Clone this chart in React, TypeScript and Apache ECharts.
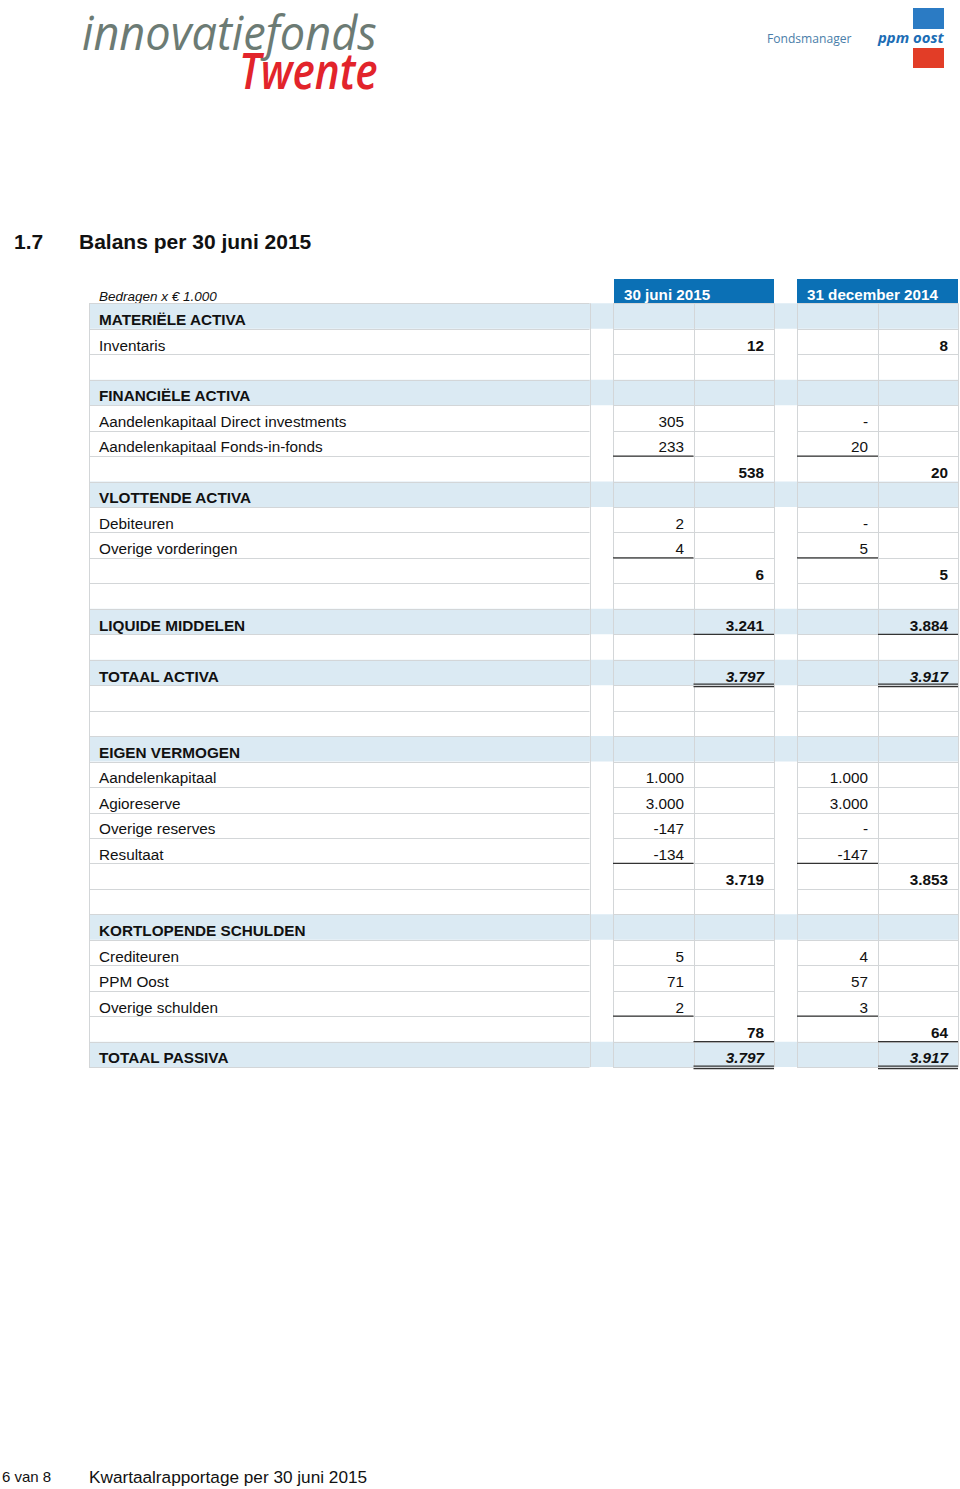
import React, { useEffect, useRef } from "react";
import * as echarts from "echarts";

// ---------- data ----------
const rowLabels = [
  "MATERIËLE ACTIVA", "Inventaris", "", "FINANCIËLE ACTIVA",
  "Aandelenkapitaal Direct investments", "Aandelenkapitaal Fonds-in-fonds", "",
  "VLOTTENDE ACTIVA", "Debiteuren", "Overige vorderingen", "", "",
  "LIQUIDE MIDDELEN", "", "TOTAAL ACTIVA", "", "",
  "EIGEN VERMOGEN", "Aandelenkapitaal", "Agioreserve", "Overige reserves", "Resultaat", "", "",
  "KORTLOPENDE SCHULDEN", "Crediteuren", "PPM Oost", "Overige schulden", "", "TOTAAL PASSIVA",
];
const sectionRows = [0, 3, 7, 12, 14, 17, 24, 29];
const italicRows = [14, 29];

const jun2015Detail = ["", "", "", "", "305", "233", "", "", "2", "4", "", "", "", "", "", "", "", "", "1.000", "3.000", "-147", "-134", "", "", "", "5", "71", "2", "", ""];
const jun2015Total = ["", "12", "", "", "", "", "538", "", "", "", "6", "", "3.241", "", "3.797", "", "", "", "", "", "", "", "3.719", "", "", "", "", "", "78", "3.797"];
const dec2014Detail = ["", "", "", "", "-", "20", "", "", "-", "5", "", "", "", "", "", "", "", "", "1.000", "3.000", "-", "-147", "", "", "", "4", "57", "3", "", ""];
const dec2014Total = ["", "8", "", "", "", "", "20", "", "", "", "5", "", "3.884", "", "3.917", "", "", "", "", "", "", "", "3.853", "", "", "", "", "", "64", "3.917"];

const detailUnderlineRows = [5, 9, 21, 27];
const totalUnderlineRows = [12, 28];
const totalDoubleRows = [14, 29];

const columnHeaders = ["30 juni 2015", "31 december 2014"];

// ---------- layout ----------
const FONT = "'Liberation Sans', Arial, sans-serif";
const TOP = 303.3;
const RH = 25.46;
const X = { l: 89, lr: 589.5, a1: 613, b1: 693.5, e1: 774, a2: 797, b2: 878, e2: 958 };
const BLUE_ROW = "#dbeaf3";
const GRID = "#d3d6d8";
const HEAD_BLUE = "#0b70b5";
const FS = 15.3;

function buildGraphics() {
  const els: any[] = [];
  const n = rowLabels.length;

  // logos
  els.push({
    type: "text", x: 82, y: 32,
    style: { text: "innovatiefonds", fill: "#6c7b74", fontFamily: "'Open Sans', sans-serif", fontStyle: "italic", fontWeight: 500, fontSize: 47, align: "left", verticalAlign: "middle" },
    scaleX: 0.96, originX: 0,
  });
  els.push({
    type: "text", x: 239, y: 70,
    style: { text: "Twente", fill: "#e2242b", fontFamily: "'Open Sans', sans-serif", fontStyle: "italic", fontWeight: 600, fontSize: 50, align: "left", verticalAlign: "middle" },
    scaleX: 0.845, originX: 0,
  });
  els.push({
    type: "text", x: 767, y: 38,
    style: { text: "Fondsmanager", fill: "#4a7ea9", fontFamily: "'Open Sans', sans-serif", fontSize: 12.1, align: "left", verticalAlign: "middle" },
  });
  els.push({
    type: "text", x: 878, y: 37,
    style: { text: "ppm oost", fill: "#1c6db5", fontFamily: "'Open Sans', sans-serif", fontStyle: "italic", fontWeight: 700, fontSize: 14.9, align: "left", verticalAlign: "middle" },
  });
  els.push({ type: "rect", shape: { x: 913, y: 8, width: 31, height: 21 }, style: { fill: "#2b7bc4" } });
  els.push({ type: "rect", shape: { x: 913, y: 48, width: 31, height: 20 }, style: { fill: "#e23d27" } });

  // title
  els.push({ type: "text", x: 14, y: 241.5, style: { text: "1.7", fill: "#111", fontFamily: FONT, fontWeight: 700, fontSize: 21, verticalAlign: "middle" } });
  els.push({ type: "text", x: 79, y: 241.5, style: { text: "Balans per 30 juni 2015", fill: "#111", fontFamily: FONT, fontWeight: 700, fontSize: 21, verticalAlign: "middle" } });

  els.push({ type: "text", x: 99, y: 296, style: { text: "Bedragen x € 1.000", fill: "#111", fontFamily: FONT, fontStyle: "italic", fontSize: 13.5, verticalAlign: "middle" } });

  // column headers
  els.push({ type: "rect", shape: { x: 614, y: 279, width: 160, height: 24.5 }, style: { fill: HEAD_BLUE } });
  els.push({ type: "rect", shape: { x: 797, y: 279, width: 161, height: 24.5 }, style: { fill: HEAD_BLUE } });
  els.push({ type: "text", x: 624, y: 294.5, style: { text: columnHeaders[0], fill: "#fff", fontFamily: FONT, fontWeight: 700, fontSize: 15.2, verticalAlign: "middle" } });
  els.push({ type: "text", x: 807, y: 294.5, style: { text: columnHeaders[1], fill: "#fff", fontFamily: FONT, fontWeight: 700, fontSize: 15.2, verticalAlign: "middle" } });

  // section fills
  sectionRows.forEach((r) => {
    els.push({ type: "rect", shape: { x: X.l, y: TOP + r * RH, width: X.e2 - X.l, height: RH }, style: { fill: BLUE_ROW } });
  });

  // horizontal grid lines
  for (let i = 0; i <= n; i++) {
    const y = Math.round(TOP + i * RH) + 0.5;
    [[X.l, X.lr], [X.a1, X.e1], [X.a2, X.e2]].forEach(([x1, x2]) => {
      els.push({ type: "line", shape: { x1, y1: y, x2, y2: y }, style: { stroke: GRID, lineWidth: 1 } });
    });
  }
  // vertical grid lines
  [X.l, X.lr, X.a1, X.b1, X.e1, X.a2, X.b2, X.e2].forEach((x) => {
    const xx = Math.round(x) + 0.5;
    els.push({ type: "line", shape: { x1: xx, y1: TOP, x2: xx, y2: TOP + n * RH }, style: { stroke: GRID, lineWidth: 1 } });
  });

  // texts
  const valueStyle = (text: string, bold: boolean, italic: boolean) => ({
    text, fill: "#111", fontFamily: FONT, fontSize: FS, fontWeight: bold ? 700 : 400, fontStyle: italic ? "italic" : "normal",
    align: "right", verticalAlign: "middle",
  });
  for (let r = 0; r < n; r++) {
    const cy = TOP + r * RH + 16.3;
    const section = sectionRows.includes(r);
    const italic = italicRows.includes(r);
    if (rowLabels[r]) {
      els.push({ type: "text", x: 99, y: cy, style: { text: rowLabels[r], fill: "#111", fontFamily: FONT, fontSize: FS, fontWeight: section ? 700 : 400, verticalAlign: "middle" } });
    }
    if (jun2015Detail[r]) els.push({ type: "text", x: 684, y: cy, style: valueStyle(jun2015Detail[r], false, false) });
    if (jun2015Total[r]) els.push({ type: "text", x: 764, y: cy, style: valueStyle(jun2015Total[r], true, italic) });
    if (dec2014Detail[r]) els.push({ type: "text", x: 868, y: cy, style: valueStyle(dec2014Detail[r], false, false) });
    if (dec2014Total[r]) els.push({ type: "text", x: 948, y: cy, style: valueStyle(dec2014Total[r], true, italic) });
  }

  // underlines
  const uline = (x1: number, x2: number, y: number) =>
    els.push({ type: "line", shape: { x1, y1: y, x2, y2: y }, style: { stroke: "#333", lineWidth: 1.3 } });
  detailUnderlineRows.forEach((r) => {
    const y = TOP + (r + 1) * RH;
    uline(X.a1, X.b1, y);
    uline(X.a2, X.b2, y);
  });
  totalUnderlineRows.forEach((r) => {
    const y = TOP + (r + 1) * RH;
    uline(X.b1, X.e1, y);
    uline(X.b2, X.e2, y);
  });
  totalDoubleRows.forEach((r) => {
    const y = TOP + (r + 1) * RH;
    uline(X.b1, X.e1, y - 1);
    uline(X.b1, X.e1, y + 1.5);
    uline(X.b2, X.e2, y - 1);
    uline(X.b2, X.e2, y + 1.5);
  });

  // footer
  els.push({ type: "text", x: 2, y: 1476.5, style: { text: "6 van 8", fill: "#111", fontFamily: FONT, fontSize: 15, verticalAlign: "middle" } });
  els.push({ type: "text", x: 89, y: 1476.5, style: { text: "Kwartaalrapportage per 30 juni 2015", fill: "#111", fontFamily: FONT, fontSize: 17.2, verticalAlign: "middle" } });

  return els;
}

export default function App() {
  const ref = useRef<HTMLDivElement>(null);
  useEffect(() => {
    if (!ref.current) return;
    const chart = echarts.init(ref.current, null, { renderer: "svg" });
    chart.setOption({
      animation: false,
      backgroundColor: "#ffffff",
      graphic: { elements: buildGraphics() },
    });
    return () => chart.dispose();
  }, []);
  return (
    <div
      ref={ref}
      style={{ position: "absolute", left: 0, top: 0, width: 960, height: 1489, background: "#fff" }}
    />
  );
}
